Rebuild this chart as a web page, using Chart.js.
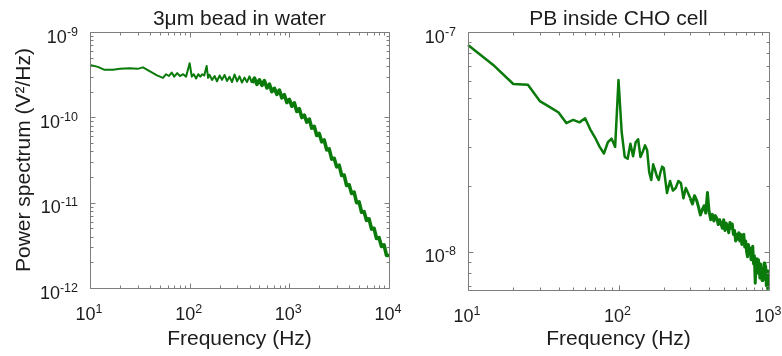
<!DOCTYPE html>
<html>
<head>
<meta charset="utf-8">
<script src="https://cdn.jsdelivr.net/npm/chart.js@4.4.1/dist/chart.umd.min.js"></script>
<style>
  body { margin: 0; background: #fff; }
  #wrap { position: relative; width: 782px; height: 356px; overflow: hidden; }
  #beadBox { position: absolute; left: 0; top: 0; width: 410px; height: 356px; }
  #cellBox { position: absolute; left: 395px; top: 0; width: 387px; height: 356px; }
</style>
</head>
<body>
<div id="wrap">
  <div id="beadBox"><canvas id="beadChart" width="410" height="356"></canvas></div>
  <div id="cellBox"><canvas id="cellChart" width="387" height="356"></canvas></div>
</div>
<script>
let fontFamily = "'Liberation Sans', Arial, Helvetica, sans-serif";
let lineGreen = "#0a7a0a";
let axisGray = "#7d7d7d";
let textDark = "#1c1c1c";

// left panel: 3um bead in water (Hz, V^2/Hz)
let beadFreq = [
  10, 12, 14, 17, 20, 25, 30, 34, 40, 47, 54, 58, 62, 66, 70, 75, 80, 86, 92, 100,
  105, 110, 116, 122, 128, 134, 140, 148, 153,
  158, 168, 178, 188, 200, 211, 224, 237, 251, 266, 282, 299, 316, 335, 355, 376, 398,
  422, 447, 473, 501, 531, 562, 596, 631, 668, 708, 750, 794, 841, 891, 944, 1000,
  1059, 1122, 1189, 1259, 1334, 1413, 1496, 1585, 1679, 1778, 1884, 1995, 2113, 2239,
  2371, 2512, 2661, 2818, 2985, 3162, 3350, 3548, 3758, 3981, 4217, 4467, 4732, 5012,
  5309, 5623, 5957, 6310, 6683, 7079, 7499, 7943, 8414, 8913, 9441, 10000
];
let beadPsd = [
  4.1e-10, 3.9e-10, 3.6e-10, 3.6e-10, 3.7e-10, 3.75e-10, 3.7e-10, 3.85e-10, 3.45e-10, 3.1e-10,
  2.9e-10, 3.2e-10, 3.05e-10, 3.35e-10, 3.0e-10, 3.3e-10, 3.05e-10, 3.2e-10, 3.0e-10, 4.3e-10,
  3.0e-10, 3.2e-10, 2.85e-10, 3.2e-10, 3.0e-10, 3.2e-10, 3.1e-10, 4.0e-10, 2.9e-10,
  3.16e-10, 2.74e-10, 3.05e-10, 2.65e-10, 3.09e-10, 2.75e-10, 3.14e-10, 2.67e-10, 2.99e-10, 2.59e-10,
  3.18e-10, 2.64e-10, 3.02e-10, 2.56e-10, 2.92e-10, 2.59e-10, 3.02e-10, 2.54e-10, 2.88e-10, 2.43e-10,
  2.75e-10, 2.37e-10, 2.69e-10, 2.21e-10, 2.45e-10, 2.0e-10, 2.19e-10, 1.86e-10, 2.09e-10, 1.69e-10,
  1.84e-10, 1.49e-10, 1.62e-10, 1.35e-10, 1.48e-10, 1.17e-10, 1.26e-10, 9.94e-11, 1.06e-10, 8.76e-11,
  9.55e-11, 7.46e-11, 7.85e-11, 6.13e-11, 6.46e-11, 5.16e-11, 5.43e-11, 4.15e-11, 4.27e-11, 3.24e-11,
  3.31e-11, 2.63e-11, 2.75e-11, 2.08e-11, 2.11e-11, 1.59e-11, 1.62e-11, 1.28e-11, 1.33e-11, 1.0e-11,
  1.02e-11, 7.72e-12, 7.85e-12, 6.2e-12, 6.46e-12, 4.9e-12, 5.01e-12, 3.8e-12, 3.89e-12, 3.07e-12,
  3.2e-12, 2.41e-12, 2.4e-12
];

// right panel: PB inside CHO cell
let cellFreq = [
  10, 15, 20, 25, 30, 35, 40, 45, 50, 55, 60, 65, 70, 75, 80, 85, 90, 95, 100,
  105, 110, 115, 120, 125, 130, 135, 140, 145, 150, 155, 160, 165, 170, 175, 180, 185, 190, 195, 200,
  210, 220, 230, 240, 250, 260, 270, 280, 290, 300, 310, 320, 330, 340, 350, 360, 370, 380, 390, 400,
  410, 420, 430, 440, 450, 460, 470, 480, 490, 500, 510, 520, 530, 540, 550, 560, 570, 580, 590, 600,
  610, 620, 630, 640, 650, 660, 670, 680, 690, 700, 710, 720, 730, 740, 750, 760, 770, 780, 790, 800,
  810, 820, 830, 840, 850, 860, 870, 880, 890, 900, 910, 920, 930, 940, 950, 960, 970, 980, 990, 1000
];
let cellPsd = [
  8.73e-8, 7.0e-8, 5.8e-8, 5.75e-8, 4.85e-8, 4.55e-8, 4.3e-8, 3.85e-8, 3.98e-8, 3.88e-8,
  4.05e-8, 3.6e-8, 3.3e-8, 3.0e-8, 2.8e-8, 3.15e-8, 3.27e-8, 3.0e-8, 6.05e-8,
  3.5e-8, 2.7e-8, 2.65e-8, 3.1e-8, 2.72e-8, 3.15e-8, 3.25e-8, 2.7e-8, 2.85e-8, 3.05e-8,
  2.9e-8, 2.3e-8, 2.12e-8, 2.5e-8, 2.35e-8, 2.2e-8, 2.12e-8, 2.3e-8, 2.44e-8, 2.4e-8,
  1.85e-8, 2.1e-8, 1.9e-8, 1.95e-8, 2.1e-8, 2.05e-8, 1.75e-8, 1.95e-8, 1.85e-8, 1.75e-8,
  1.65e-8, 1.8e-8, 1.72e-8, 1.6e-8, 1.47e-8, 1.55e-8, 1.62e-8, 1.5e-8, 1.86e-8, 1.52e-8,
  1.4e-8, 1.48e-8, 1.38e-8, 1.46e-8, 1.42e-8, 1.33e-8, 1.4e-8, 1.34e-8, 1.28e-8, 1.4e-8,
  1.25e-8, 1.35e-8, 1.3e-8, 1.22e-8, 1.36e-8, 1.28e-8, 1.34e-8, 1.2e-8, 1.25e-8, 1.12e-8,
  1.2e-8, 1.14e-8, 1.22e-8, 1.12e-8, 1.2e-8, 1.08e-8, 1.18e-8, 1.2e-8, 1.05e-8, 1.12e-8,
  1.0e-8, 9.5e-9, 1.08e-8, 9.8e-9, 1.04e-8, 9.2e-9, 1.0e-8, 1.06e-8, 8.8e-9, 9.6e-9,
  7.2e-9, 8.8e-9, 9.3e-9, 8.0e-9, 9.2e-9, 8.6e-9, 7.6e-9, 8.8e-9, 8.1e-9, 7.4e-9,
  8.3e-9, 7.7e-9, 8.9e-9, 7.5e-9, 8.6e-9, 7.0e-9, 8.2e-9, 6.8e-9, 7.9e-9, 6.8e-9
];

// axis limits
let beadXRange = [10, 10000];
let beadYRange = [1e-12, 1e-9];
let cellXRange = [10, 1000];
let cellYRange = [6.7e-9, 1e-7];

// exponent of a decade tick, null for the minor ones
function decadeExp(value) {
  let e = Math.log10(value);
  let r = Math.round(e);
  return Math.abs(e - r) > 1e-6 ? null : r;
}

// 1..9 x 10^n ticks inside the limits
function logTicks(min, max) {
  let out = [];
  for (let e = Math.floor(Math.log10(min)); e <= Math.ceil(Math.log10(max)); e++) {
    for (let m = 1; m < 10; m++) {
      let v = m * Math.pow(10, e);
      if (v >= min * 0.999 && v <= max * 1.001) out.push({ value: v, major: m === 1 });
    }
  }
  return out;
}

// matlab style box with the ticks pointing inwards
let boxTicks = {
  id: "boxTicks",
  afterDatasetsDraw(chart) {
    let ctx = chart.ctx;
    let a = chart.chartArea;
    let xs = chart.scales.x;
    let ys = chart.scales.y;
    let l = Math.round(a.left) + 0.5, r = Math.round(a.right) + 0.5;
    let t = Math.round(a.top) + 0.5, b = Math.round(a.bottom) + 0.5;
    ctx.save();
    ctx.strokeStyle = axisGray;
    ctx.lineWidth = 1;
    ctx.beginPath();
    xs.ticks.forEach((tk) => {
      let px = Math.round(xs.getPixelForValue(tk.value)) + 0.5;
      let len = tk.major ? 5 : 3;
      ctx.moveTo(px, b); ctx.lineTo(px, b - len);
      ctx.moveTo(px, t); ctx.lineTo(px, t + len);
    });
    ys.ticks.forEach((tk) => {
      let py = Math.round(ys.getPixelForValue(tk.value)) + 0.5;
      let len = tk.major ? 5 : 3;
      ctx.moveTo(l, py); ctx.lineTo(l + len, py);
      ctx.moveTo(r, py); ctx.lineTo(r - len, py);
    });
    ctx.rect(l, t, r - l, b - t);
    ctx.stroke();
    ctx.restore();
  },
};

// tick labels as 10 with a raised exponent
let decadeLabels = {
  id: "decadeLabels",
  afterDraw(chart) {
    let ctx = chart.ctx;
    let a = chart.chartArea;
    let xs = chart.scales.x;
    let ys = chart.scales.y;
    let baseFont = "18px " + fontFamily;
    let supFont = "12.5px " + fontFamily;
    ctx.save();
    ctx.fillStyle = textDark;
    ctx.textBaseline = "alphabetic";
    ctx.textAlign = "left";
    let draw = (e, xLeft, baseY) => {
      ctx.font = baseFont;
      ctx.fillText("10", xLeft, baseY);
      let w = ctx.measureText("10").width;
      ctx.font = supFont;
      ctx.fillText(String(e), xLeft + w, baseY - 7);
    };
    let width = (e) => {
      ctx.font = baseFont;
      let w = ctx.measureText("10").width;
      ctx.font = supFont;
      return w + ctx.measureText(String(e)).width;
    };
    xs.ticks.forEach((tk) => {
      let e = decadeExp(tk.value);
      if (e === null) return;
      let px = xs.getPixelForValue(tk.value);
      draw(e, px - width(e) / 2 - 1, a.bottom + 32);
    });
    ys.ticks.forEach((tk) => {
      let e = decadeExp(tk.value);
      if (e === null) return;
      let py = ys.getPixelForValue(tk.value);
      draw(e, a.left - 12 - width(e), py + 10.5);
    });
    ctx.restore();
  },
};

function psdChart(canvasId, freq, psd, cfg) {
  let points = freq.map((f, i) => ({ x: f, y: psd[i] }));
  return new Chart(document.getElementById(canvasId), {
    type: "line",
    data: {
      datasets: [
        {
          data: points,
          borderColor: lineGreen,
          borderWidth: cfg.lineWidth,
          borderJoinStyle: "round",
          pointRadius: 0,
          tension: 0,
          clip: 1,
          // the dense noisy part reads as a thicker band
          segment: {
            borderWidth: (c) => (c.p0.parsed.x >= cfg.bandFrom ? cfg.bandWidth : undefined),
          },
        },
      ],
    },
    options: {
      responsive: false,
      animation: false,
      events: [],
      layout: { padding: cfg.padding },
      plugins: {
        legend: { display: false },
        tooltip: { enabled: false },
        title: {
          display: true,
          fullSize: false,
          text: cfg.title,
          color: textDark,
          font: { family: fontFamily, size: 21, weight: "normal" },
          padding: { top: 6.8, bottom: 0 },
        },
      },
      scales: {
        x: {
          type: "logarithmic",
          min: cfg.xRange[0],
          max: cfg.xRange[1],
          grid: { display: false, drawTicks: false },
          border: { display: false },
          afterBuildTicks: (s) => { s.ticks = logTicks(cfg.xRange[0], cfg.xRange[1]); },
          afterFit: (s) => { s.height = cfg.xHeight; s.paddingLeft = 0; s.paddingRight = 0; },
          ticks: { display: false, autoSkip: false },
          title: {
            display: true,
            text: "Frequency (Hz)",
            color: textDark,
            font: { family: fontFamily, size: 21 },
            padding: { top: 0, bottom: 4 },
          },
        },
        y: {
          type: "logarithmic",
          min: cfg.yRange[0],
          max: cfg.yRange[1],
          grid: { display: false, drawTicks: false },
          border: { display: false },
          afterBuildTicks: (s) => { s.ticks = logTicks(cfg.yRange[0], cfg.yRange[1]); },
          afterFit: (s) => { s.width = cfg.yWidth; s.paddingTop = 0; s.paddingBottom = 0; },
          ticks: { display: false, autoSkip: false },
          title: {
            display: cfg.yTitle !== "",
            text: cfg.yTitle,
            color: textDark,
            font: { family: fontFamily, size: 21 },
            padding: { top: 12, bottom: 0 },
          },
        },
      },
    },
    plugins: [boxTicks, decadeLabels],
  });
}

psdChart("beadChart", beadFreq, beadPsd, {
  title: "3\u03BCm bead in water",
  yTitle: "Power spectrum (V\u00B2/Hz)",
  xRange: beadXRange,
  yRange: beadYRange,
  lineWidth: 2,
  bandFrom: 400,
  bandWidth: 3.6,
  yWidth: 90,
  xHeight: 68,
  padding: { left: 0, right: 21, top: 0, bottom: 0 },
});

psdChart("cellChart", cellFreq, cellPsd, {
  title: "PB inside CHO cell",
  yTitle: "",
  xRange: cellXRange,
  yRange: cellYRange,
  lineWidth: 2.5,
  bandFrom: 300,
  bandWidth: 3,
  yWidth: 73,
  xHeight: 66,
  padding: { left: 0, right: 13, top: 0, bottom: 0 },
});
</script>
</body>
</html>
